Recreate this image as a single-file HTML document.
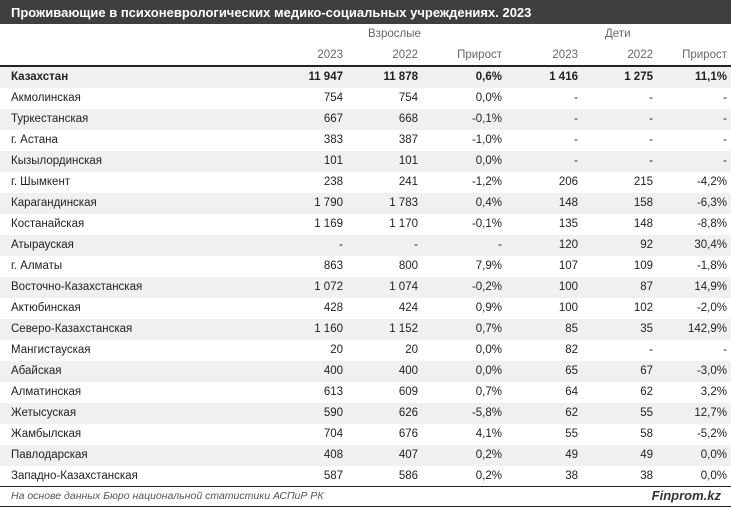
<!DOCTYPE html>
<html><head><meta charset="utf-8">
<style>
body{margin:0;width:731px;height:508px;background:#fff;font-family:"Liberation Sans","DejaVu Sans",sans-serif;overflow:hidden;position:relative;color:#222}
#title{position:absolute;left:0;top:0;width:731px;height:24px;background:#3f3f3f;color:#fff;font-weight:bold;font-size:13px;line-height:25px;padding-left:11px;box-sizing:border-box}
.h{position:absolute;font-size:11.5px;color:#666}
.row{position:absolute;left:0;width:731px;height:21px;font-size:11.5px;line-height:21px}
.row.g{background:#f0f0f0}
.row span{position:absolute}
.row .n{left:11px}
.r{text-align:right;width:70px}
.b{font-weight:bold}
#line1{position:absolute;left:0;top:65px;width:731px;height:2px;background:#222}
#line2{position:absolute;left:0;top:486px;width:731px;height:1px;background:#222}
#line3{position:absolute;left:0;top:506px;width:731px;height:1px;background:#222}
#src{position:absolute;left:11px;top:490px;font-size:10.5px;font-style:italic;color:#555}
#brand{position:absolute;right:10px;top:488px;font-size:13px;font-weight:bold;font-style:italic;color:#333}
</style></head><body>
<div id="title">Проживающие в психоневрологических медико-социальных учреждениях. 2023</div>
<div class="h" style="left:368px;top:28px">Взрослые</div>
<div class="h" style="left:605px;top:28px">Дети</div>
<div class="h" style="left:273px;top:49px;width:70px;text-align:right">2023</div>
<div class="h" style="left:348px;top:49px;width:70px;text-align:right">2022</div>
<div class="h" style="left:432px;top:49px;width:70px;text-align:right">Прирост</div>
<div class="h" style="left:508px;top:49px;width:70px;text-align:right">2023</div>
<div class="h" style="left:583px;top:49px;width:70px;text-align:right">2022</div>
<div class="h" style="left:657px;top:49px;width:70px;text-align:right">Прирост</div>
<div id="rows"></div>
<div id="line1"></div>
<div id="line2"></div>
<div id="line3"></div>
<div id="src">На основе данных Бюро национальной статистики АСПиР РК</div>
<div id="brand">Finprom.kz</div>
<script>
const regions=["Казахстан","Акмолинская","Туркестанская","г. Астана","Кызылординская","г. Шымкент","Карагандинская","Костанайская","Атырауская","г. Алматы","Восточно-Казахстанская","Актюбинская","Северо-Казахстанская","Мангистауская","Абайская","Алматинская","Жетысуская","Жамбылская","Павлодарская","Западно-Казахстанская"];
const adults2023=["11 947","754","667","383","101","238","1 790","1 169","-","863","1 072","428","1 160","20","400","613","590","704","408","587"];
const adults2022=["11 878","754","668","387","101","241","1 783","1 170","-","800","1 074","424","1 152","20","400","609","626","676","407","586"];
const adultsGrowth=["0,6%","0,0%","-0,1%","-1,0%","0,0%","-1,2%","0,4%","-0,1%","-","7,9%","-0,2%","0,9%","0,7%","0,0%","0,0%","0,7%","-5,8%","4,1%","0,2%","0,2%"];
const kids2023=["1 416","-","-","-","-","206","148","135","120","107","100","100","85","82","65","64","62","55","49","38"];
const kids2022=["1 275","-","-","-","-","215","158","148","92","109","87","102","35","-","67","62","55","58","49","38"];
const kidsGrowth=["11,1%","-","-","-","-","-4,2%","-6,3%","-8,8%","30,4%","-1,8%","14,9%","-2,0%","142,9%","-","-3,0%","3,2%","12,7%","-5,2%","0,0%","0,0%"];
const cols=[[adults2023,273],[adults2022,348],[adultsGrowth,432],[kids2023,508],[kids2022,583],[kidsGrowth,657]];
const names=["adults-2023","adults-2022","adults-growth","children-2023","children-2022","children-growth"];
const host=document.getElementById('rows');
regions.forEach((r,i)=>{
  const row=document.createElement('div');
  row.className='row'+(i%2===0?' g':'')+(i===0?' b':'');
  row.style.top=(67+i*21)+'px';
  
  
  const n=document.createElement('span');
  n.className='n';n.textContent=r;
  
  
  row.appendChild(n);
  cols.forEach((c,j)=>{
    const s=document.createElement('span');
    s.className='r';s.style.left=c[1]+'px';s.textContent=c[0][i];
    
    
    row.appendChild(s);
  });
  host.appendChild(row);
});
</script>
</body></html>
